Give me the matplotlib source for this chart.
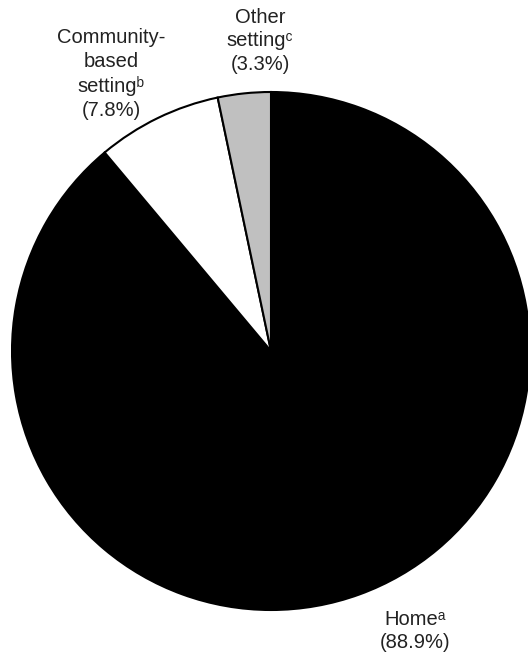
import matplotlib.pyplot as plt

plt.rcParams['font.family'] = ['Liberation Sans', 'DejaVu Sans']

labels = ['Home\u1d43\n(88.9%)',
          'Community-\nbased\nsetting\u1d47\n(7.8%)',
          'Other\nsetting\u1d9c\n(3.3%)']
values = [88.9, 7.8, 3.3]
colors = ['#000000', '#ffffff', '#c0c0c0']

fig = plt.figure(figsize=(5.28, 6.56), dpi=100)
ax = fig.add_axes([0, 0, 1, 1])

ax.pie(values, colors=colors, startangle=90, counterclock=False,
       center=(271, 305), radius=259, frame=True,
       wedgeprops=dict(edgecolor='black', linewidth=1.5))
ax.set_xlim(0, 528)
ax.set_ylim(0, 656)
ax.set_aspect('equal')
ax.axis('off')

label_pos = [(415, 25), (111, 582), (260, 615)]
for lab, (x, y) in zip(labels, label_pos):
    ax.text(x, y, lab, ha='center', va='center', fontsize=14.5,
            color='#222222', linespacing=1.32)

fig.savefig('out.png', dpi=100)
